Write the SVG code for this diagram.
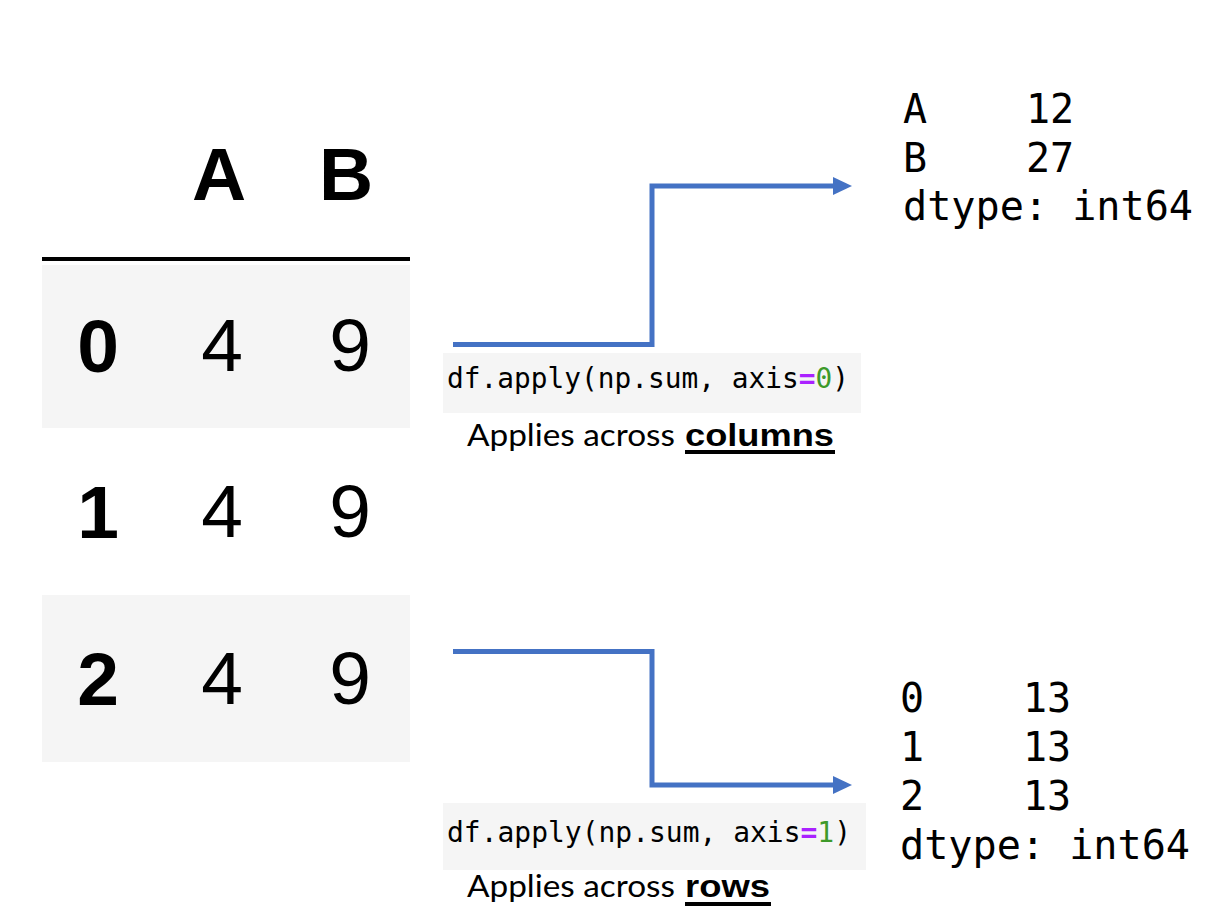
<svg xmlns="http://www.w3.org/2000/svg" width="1230" height="924" viewBox="0 0 1230 924">
<style>
.band{fill:#f5f5f5}
.hdr{font-family:"Liberation Sans",Arial,sans-serif;font-weight:bold;font-size:75px;fill:#000;text-anchor:middle}
.val{font-family:"Liberation Sans",Arial,sans-serif;font-size:75px;fill:#000;text-anchor:middle}
.code{font-family:"DejaVu Sans Mono",monospace;font-size:28px;fill:#000}
.op{fill:#aa22ff;font-weight:bold}
.num{fill:#3d9a2a}
.out{font-family:"DejaVu Sans Mono",monospace;font-size:40px;fill:#000}
.cap{font-family:Lato,"Liberation Sans",sans-serif;font-size:31px;fill:#000}
.capb{font-family:"Liberation Sans",Arial,sans-serif;font-weight:bold;font-size:31px;fill:#000}
.conn{fill:none;stroke:#4472c4;stroke-width:5;stroke-linejoin:miter}
</style>
<defs>
<marker id="ah" markerUnits="userSpaceOnUse" markerWidth="19" markerHeight="18" refX="3" refY="9" orient="auto" viewBox="0 0 19 18">
<path d="M0,0 L19,9 L0,18 z" fill="#4472c4"/>
</marker>
</defs>
<rect width="1230" height="924" fill="#fff"/>
<g id="table">
<rect class="band" x="42" y="265" width="368" height="163"/>
<rect class="band" x="42" y="595" width="368" height="167"/>
<rect x="42" y="257" width="368" height="4" fill="#000"/>
<text class="hdr" x="219" y="200">A</text>
<text class="hdr" x="346" y="200">B</text>
<text class="hdr" x="98" y="372">0</text>
<text class="val" x="222" y="371">4</text>
<text class="val" x="350" y="371">9</text>
<text class="hdr" x="98" y="538">1</text>
<text class="val" x="222" y="537">4</text>
<text class="val" x="350" y="537">9</text>
<text class="hdr" x="98" y="705">2</text>
<text class="val" x="222" y="704">4</text>
<text class="val" x="350" y="704">9</text>
</g>
<g id="code0">
<rect class="band" x="443" y="353" width="418" height="60"/>
<text class="code" x="447" y="388" textLength="402" lengthAdjust="spacingAndGlyphs">df.apply(np.sum, axis<tspan class="op">=</tspan><tspan class="num">0</tspan>)</text>
<text class="cap" x="467" y="446" textLength="208" lengthAdjust="spacingAndGlyphs">Applies across</text>
<text class="capb" x="685" y="446" textLength="149" lengthAdjust="spacingAndGlyphs">columns</text>
<rect x="685" y="450" width="150" height="4" fill="#000"/>
</g>
<g id="code1">
<rect class="band" x="443" y="803" width="423" height="67"/>
<text class="code" x="447" y="842" textLength="404" lengthAdjust="spacingAndGlyphs">df.apply(np.sum, axis<tspan class="op">=</tspan><tspan class="num">1</tspan>)</text>
<text class="cap" x="467" y="897" textLength="208" lengthAdjust="spacingAndGlyphs">Applies across</text>
<text class="capb" x="685" y="897" textLength="85" lengthAdjust="spacingAndGlyphs">rows</text>
<rect x="685" y="902" width="86" height="4" fill="#000"/>
</g>
<g id="out0">
<text class="out" x="903" y="123">A</text>
<text class="out" x="1026" y="123">12</text>
<text class="out" x="903" y="172">B</text>
<text class="out" x="1026" y="172">27</text>
<text class="out" x="903" y="220" textLength="290" lengthAdjust="spacingAndGlyphs">dtype: int64</text>
</g>
<g id="out1">
<text class="out" x="900" y="712">0</text>
<text class="out" x="1023" y="712">13</text>
<text class="out" x="900" y="761">1</text>
<text class="out" x="1023" y="761">13</text>
<text class="out" x="900" y="810">2</text>
<text class="out" x="1023" y="810">13</text>
<text class="out" x="900" y="859" textLength="290" lengthAdjust="spacingAndGlyphs">dtype: int64</text>
</g>
<g id="connectors">
<path class="conn" d="M453,344.5 H652 V186 H836" marker-end="url(#ah)"/>
<path class="conn" d="M453,651.5 H652 V785 H836" marker-end="url(#ah)"/>
</g>
</svg>
